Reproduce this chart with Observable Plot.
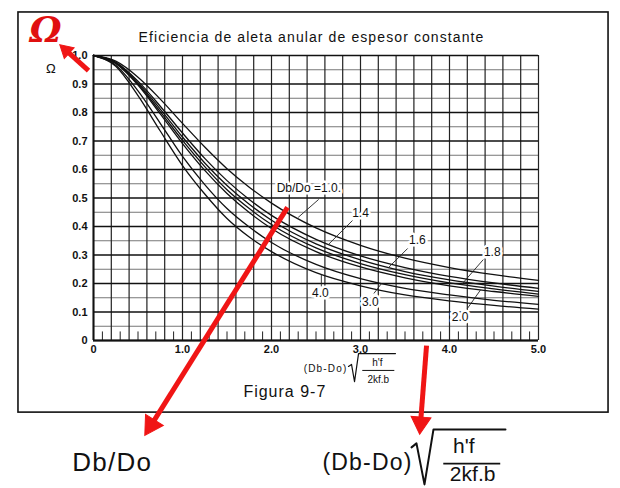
<!DOCTYPE html>
<html><head><meta charset="utf-8">
<script src="https://cdn.jsdelivr.net/npm/d3@7"></script>
<script src="https://cdn.jsdelivr.net/npm/@observablehq/plot@0.6"></script>
<style>
html,body{margin:0;padding:0;background:#fff;}
#chart{width:620px;height:488px;overflow:hidden;}
</style></head><body><div id="chart"></div>
<script>
// ---- data ----
const xs = [0,0.25,0.5,0.75,1,1.25,1.5,1.75,2,2.5,3,3.5,4,4.5,5];
const eff10 = [1,0.980,0.924,0.847,0.762,0.679,0.603,0.538,0.482,0.395,0.334,0.289,0.256,0.231,0.211];
const eff14 = [1,0.976,0.910,0.822,0.728,0.639,0.561,0.495,0.439,0.355,0.297,0.256,0.225,0.202,0.183];
const eff16 = [1,0.975,0.905,0.812,0.714,0.623,0.544,0.478,0.422,0.339,0.283,0.242,0.213,0.191,0.172];
const eff18 = [1,0.973,0.900,0.803,0.702,0.610,0.529,0.463,0.407,0.325,0.270,0.231,0.202,0.181,0.163];
const eff20 = [1,0.972,0.896,0.795,0.691,0.597,0.516,0.449,0.393,0.312,0.258,0.220,0.192,0.172,0.155];
const eff30 = [1,0.966,0.876,0.762,0.646,0.547,0.463,0.398,0.344,0.267,0.217,0.183,0.160,0.141,0.127];
const eff40 = [1,0.962,0.859,0.735,0.614,0.514,0.428,0.363,0.312,0.238,0.192,0.160,0.139,0.123,0.110];
const ratios = ["1.0","1.4","1.6","1.8","2.0","3.0","4.0"];
const series = [eff10, eff14, eff16, eff18, eff20, eff30, eff40];

const xTicks = [0,1,2,3,4,5];
const yTicks = [0,0.1,0.2,0.3,0.4,0.5,0.6,0.7,0.8,0.9,1.0];
const xGrid = d3.range(0, 5.001, 0.2).map(v => +v.toFixed(2));
const xSmall = d3.range(0.1, 5, 0.2).map(v => +v.toFixed(2));
const yMajor = yTicks;
const yMinor = d3.range(0.05, 1, 0.1).map(v => +v.toFixed(2));

// curve labels and their leader lines (chart units)
const curveLabels = [
  {text:"Db/Do =1.0.", x:2.42, y:0.533},
  {text:"1.4", x:3.00, y:0.446},
  {text:"1.6", x:3.64, y:0.351},
  {text:"1.8", x:4.48, y:0.309},
  {text:"2.0", x:4.12, y:0.081},
  {text:"3.0", x:3.11, y:0.133},
  {text:"4.0", x:2.55, y:0.165}
];
const leaders = [
  {x1:2.53, y1:0.495, x2:2.30, y2:0.432},
  {x1:2.91, y1:0.421, x2:2.64, y2:0.337},
  {x1:3.53, y1:0.323, x2:3.315, y2:0.256},
  {x1:4.38, y1:0.284, x2:4.135, y2:0.196},
  {x1:4.20, y1:0.112, x2:4.35, y2:0.178},
  {x1:3.15, y1:0.165, x2:3.236, y2:0.200},
  {x1:2.56, y1:0.190, x2:2.56, y2:0.232}
];

// page annotations (chart units)
const frameBox = [{x1:-0.843, x2:5.787, y1:1.151, y2:-0.253}];
const titleText = [{text:"Eficiencia de aleta anular de espesor constante", x:2.45, y:1.063}];
const figText = [{text:"Figura 9-7", x:2.15, y:-0.182}];
const omegaSmall = [{text:"Ω", x:-0.48, y:0.954}];
const omegaRed = [{text:"Ω", x:-0.54, y:1.088}];
const axisNum = [{text:"(Db-Do)", x:2.855, y:-0.098}];
const axisFrac = [{text:"h'f", x:3.19, y:-0.077}, {text:"2kf.b", x:3.20, y:-0.137}];
const axisRad = [[2.865,-0.091],[2.899,-0.084],[2.933,-0.144],[2.978,-0.046],[3.393,-0.046]];
const axisBar = [{x1:3.02, x2:3.38, y:-0.105}];
const bigDb = [{text:"Db/Do", x:0.21, y:-0.428}];
const bigNum = [{text:"(Db-Do)", x:3.585, y:-0.428}];
const bigFrac = [{text:"h'f", x:4.16, y:-0.372}, {text:"2kf.b", x:4.26, y:-0.470}];
const bigRad = [[3.573,-0.375],[3.629,-0.361],[3.719,-0.505],[3.820,-0.312],[4.629,-0.312]];
const bigBar = [{x1:3.93, x2:4.57, y:-0.432}];
// red annotation arrows: tail (x1,y1) -> tip (x2,y2), head radius r
const redArrows = [
  {x1:2.18, y1:0.467, x2:0.562, y2:-0.340, w:5, r:10},
  {x1:3.742, y1:-0.018, x2:3.663, y2:-0.337, w:5, r:9.5},
  {x1:-0.056, y1:0.947, x2:-0.393, y2:1.042, w:5, r:7}
];

const rows = [];
series.forEach((arr, k) => arr.forEach((v, i) => rows.push({x: xs[i], y: v, r: ratios[k]})));

// plot geometry
const W = 620, H = 488, mL = 93, mR = 82, mT = 55, mB = 148;
const kx = (W - mL - mR) / 5, ky = (H - mT - mB) / 1;
// arrow heads as filled triangles, shafts ending at the head centre
const heads = redArrows.map(a => {
  const dx = (a.x2 - a.x1) * kx, dy = -(a.y2 - a.y1) * ky;
  const len = Math.hypot(dx, dy);
  const back = a.r * 1.45;
  const cx = a.x2 - (dx / len) * back / kx;
  const cy = a.y2 + (dy / len) * back / ky;
  return {cx, cy, x1: a.x1, y1: a.y1, w: a.w, r: a.r, rot: Math.atan2(dx, -dy) * 180 / Math.PI};
});

const RED = "#f01515";
const INK = "#111";

const svg = Plot.plot({
  width: W, height: H,
  marginLeft: mL, marginRight: mR, marginTop: mT, marginBottom: mB,
  x: {domain: [0, 5]},
  y: {domain: [0, 1]},
  r: {type: "identity"},
  style: {fontFamily: "'Liberation Sans', Arial, sans-serif", background: "white", color: INK, fontSize: "11px"},
  marks: [
    Plot.rect(frameBox, {x1:"x1", x2:"x2", y1:"y1", y2:"y2", fill:"none", stroke:INK, strokeWidth:1.6}),
    Plot.ruleY(yMinor, {stroke:"#777", strokeWidth:1}),
    Plot.ruleX(xGrid, {stroke:"#222", strokeWidth:1.2}),
    Plot.ruleX(xSmall, {y1:0, y2:0.03, stroke:"#222", strokeWidth:1}),
    Plot.ruleY(yMajor, {stroke:INK, strokeWidth:1.3}),
    Plot.ruleY([0], {stroke:INK, strokeWidth:2}),
    Plot.ruleX([0], {stroke:INK, strokeWidth:2}),
    Plot.line(rows, {x:"x", y:"y", z:"r", curve:"monotone-x", stroke:INK, strokeWidth:1.3}),
    Plot.link(leaders, {x1:"x1", y1:"y1", x2:"x2", y2:"y2", stroke:"#222", strokeWidth:0.9}),
    Plot.text(curveLabels, {x:"x", y:"y", text:"text", fontSize:12, fill:INK, stroke:"white", strokeWidth:5}),
    Plot.axisX(xTicks, {tickSize:0, tickPadding:5, tickFormat: d => d === 0 ? "0" : d.toFixed(1), fontSize:11, fontWeight:"bold", label:null}),
    Plot.axisY(yTicks, {tickSize:0, tickPadding:6, tickFormat: d => d === 0 ? "0" : d.toFixed(1), fontSize:11, fontWeight:"bold", label:null}),
    Plot.text(titleText, {x:"x", y:"y", text:"text", fontSize:14, fill:INK}),
    Plot.text(figText, {x:"x", y:"y", text:"text", fontSize:16, fill:INK}),
    Plot.text(omegaSmall, {x:"x", y:"y", text:"text", fontSize:13, fill:INK}),
    Plot.text(axisNum, {x:"x", y:"y", text:"text", fontSize:10, fill:INK, textAnchor:"end"}),
    Plot.text(axisFrac, {x:"x", y:"y", text:"text", fontSize:10, fill:INK}),
    Plot.line(axisRad, {x:d => d[0], y:d => d[1], stroke:INK, strokeWidth:1.2}),
    Plot.link(axisBar, {x1:"x1", x2:"x2", y1:"y", y2:"y", stroke:INK, strokeWidth:1}),
    Plot.text(bigDb, {x:"x", y:"y", text:"text", fontSize:26, fill:INK}),
    Plot.text(bigNum, {x:"x", y:"y", text:"text", fontSize:23, fill:INK, textAnchor:"end"}),
    Plot.text(bigFrac, {x:"x", y:"y", text:"text", fontSize:21, fill:INK}),
    Plot.line(bigRad, {x:d => d[0], y:d => d[1], stroke:INK, strokeWidth:2}),
    Plot.link(bigBar, {x1:"x1", x2:"x2", y1:"y", y2:"y", stroke:INK, strokeWidth:1.8}),
    Plot.link(heads, {x1:"x1", y1:"y1", x2:"cx", y2:"cy", stroke:RED, strokeWidth:"w"}),
    Plot.dot(heads, {x:"cx", y:"cy", r:"r", symbol:"triangle2", rotate:"rot", fill:RED, stroke:RED, strokeWidth:1}),
    Plot.text(omegaRed, {x:"x", y:"y", text:"text", fontSize:36, fontWeight:"bold", fontStyle:"italic", fontFamily:"DejaVu Serif", fill:"#e01010"})
  ]
});
document.getElementById("chart").appendChild(svg);
d3.select(svg).selectAll("text").each(function() {
  const t = this.textContent;
  if (t === titleText[0].text) this.style.letterSpacing = "1.1px";
  if (t === "Figura 9-7") this.style.letterSpacing = "1px";
  if (t === "Db/Do" || t === "(Db-Do)") this.style.letterSpacing = "1.2px";
});
</script>
</body></html>
